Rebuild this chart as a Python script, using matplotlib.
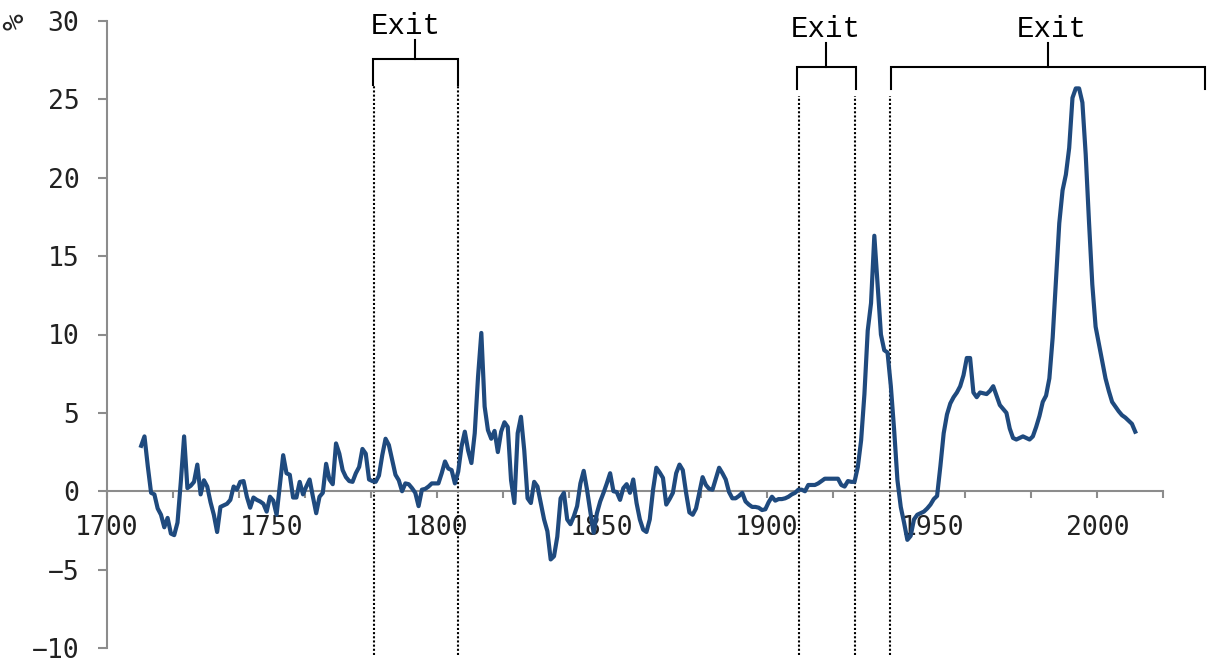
import numpy as np
import matplotlib
matplotlib.use('Agg')
import matplotlib.pyplot as plt

# annual rate, 1710-2011 (%)
years = np.arange(1710, 2012)
rate = [
    2.9, 3.5, 1.6, -0.1, -0.2, -1.1, -1.5, -2.3, -1.7, -2.7,         # 1710s
    -2.8, -2.0, 0.6, 3.5, 0.2, 0.35, 0.6, 1.7, -0.2, 0.7,            # 1720s
    0.3, -0.7, -1.5, -2.6, -1.0, -0.9, -0.8, -0.55, 0.3, 0.1,        # 1730s
    0.6, 0.65, -0.35, -1.05, -0.4, -0.55, -0.65, -0.8, -1.3, -0.35,  # 1740s
    -0.6, -1.5, 0.4, 2.3, 1.15, 1.05, -0.4, -0.4, 0.6, -0.2,         # 1750s
    0.3, 0.75, -0.35, -1.4, -0.35, -0.1, 1.75, 0.75, 0.45, 3.05,     # 1760s
    2.4, 1.35, 0.9, 0.65, 0.6, 1.15, 1.55, 2.7, 2.4, 0.75,           # 1770s
    0.65, 0.6, 1.0, 2.3, 3.35, 2.95, 2.0, 1.05, 0.7, 0.0,            # 1780s
    0.5, 0.45, 0.2, -0.1, -0.95, 0.1, 0.15, 0.3, 0.5, 0.5,           # 1790s
    0.5, 1.15, 1.9, 1.45, 1.35, 0.5, 1.25, 2.85, 3.8, 2.6,           # 1800s
    1.8, 3.7, 7.3, 10.1, 5.4, 3.9, 3.35, 3.85, 2.5, 3.8,             # 1810s
    4.4, 4.1, 0.7, -0.75, 3.7, 4.75, 2.6, -0.45, -0.75, 0.6,         # 1820s
    0.3, -0.75, -1.8, -2.55, -4.35, -4.15, -2.9, -0.45, -0.1, -1.8,  # 1830s
    -2.1, -1.6, -0.95, 0.5, 1.3, 0.1, -1.3, -2.65, -1.4, -0.65,      # 1840s
    -0.1, 0.5, 1.15, 0.0, -0.05, -0.55, 0.2, 0.45, -0.1, 0.75,       # 1850s
    -0.75, -1.8, -2.45, -2.6, -1.8, 0.1, 1.5, 1.2, 0.85, -0.85,      # 1860s
    -0.5, -0.1, 1.15, 1.7, 1.35, -0.1, -1.35, -1.5, -1.1, -0.1,      # 1870s
    0.9, 0.4, 0.15, 0.1, 0.8, 1.5, 1.15, 0.75, -0.05, -0.45,         # 1880s
    -0.45, -0.3, -0.1, -0.65, -0.85, -1.0, -1.0, -1.05, -1.2, -1.15, # 1890s
    -0.7, -0.35, -0.6, -0.5, -0.5, -0.45, -0.35, -0.2, -0.1, 0.1,    # 1900s
    0.1, 0.0, 0.4, 0.4, 0.4, 0.5, 0.65, 0.8, 0.8, 0.8,               # 1910s
    0.8, 0.8, 0.4, 0.3, 0.65, 0.6, 0.6, 1.55, 3.25, 6.2,             # 1920s
    10.25, 12.0, 16.3, 13.2, 10.0, 9.0, 8.85, 6.7, 3.9, 0.7,         # 1930s
    -1.0, -2.0, -3.1, -2.85, -1.8, -1.5, -1.4, -1.3, -1.1, -0.85,    # 1940s
    -0.5, -0.3, 1.6, 3.7, 4.9, 5.6, 6.0, 6.3, 6.7, 7.4,              # 1950s
    8.5, 8.5, 6.3, 6.0, 6.3, 6.25, 6.2, 6.4, 6.7, 6.1,               # 1960s
    5.5, 5.25, 5.0, 4.0, 3.4, 3.3, 3.4, 3.5, 3.4, 3.3,               # 1970s
    3.5, 4.1, 4.8, 5.7, 6.1, 7.2, 9.8, 13.5, 17.1, 19.2,             # 1980s
    20.2, 21.9, 25.1, 25.7, 25.7, 24.8, 21.5, 17.2, 13.2, 10.5,      # 1990s
    9.4, 8.3, 7.2, 6.4, 5.7, 5.4, 5.1, 4.85, 4.7, 4.5,               # 2000s
    4.3, 3.8,                                                        # 2010s
]

# "Exit" periods: bracket spans and the dotted boundaries
exit_start = [1780.7, 1909.1, 1937.6]
exit_end = [1806.4, 1926.9, 2032.7]
exit_label_x = [1790.7, 1917.7, 1986.3]
boundary_years = [1781.0, 1806.4, 1909.7, 1926.6, 1937.1]

x_ticks = list(range(1700, 2021, 20))
x_labels = [1700, 1750, 1800, 1850, 1900, 1950, 2000]
y_ticks = [-10, -5, 0, 5, 10, 15, 20, 25, 30]

tick_font = 'DejaVu Sans Mono'
label_font = 'Liberation Mono'
grey = '#8c8c8c'
text_col = '#222222'


def main():
    fig = plt.figure(figsize=(12.07, 6.70), dpi=100)
    ax = fig.add_axes([106.5 / 1207, 22 / 670, 1056.8 / 1207, 627 / 670])

    # categories sit in the middle of their year slot
    ax.plot(years + 0.5, rate, color='#1f4a7e', lw=3.0,
            solid_joinstyle='round', zorder=3)

    ax.set_xlim(1700, 2020)
    ax.set_ylim(-10, 30)

    for s in ['top', 'right']:
        ax.spines[s].set_visible(False)
    ax.spines['bottom'].set_position(('data', 0))
    for s in ['left', 'bottom']:
        ax.spines[s].set_color(grey)
        ax.spines[s].set_linewidth(1.5)

    # tick marks every 20 years, labels every 50 years
    ax.xaxis.remove_overlapping_locs = False
    ax.set_xticks(x_ticks)
    ax.set_xticklabels([])
    ax.set_xticks(x_labels, minor=True)
    ax.set_xticklabels([str(v) for v in x_labels], minor=True,
                       family=tick_font, fontsize=19, color=text_col)
    ax.tick_params(axis='x', which='major', direction='out', length=5,
                   width=1.5, color=grey)
    ax.tick_params(axis='x', which='minor', length=0, pad=17)

    ax.set_yticks(y_ticks)
    ax.set_yticklabels([str(v).replace('-', '\u2212') for v in y_ticks],
                       family=tick_font, fontsize=19, color=text_col)
    ax.tick_params(axis='y', direction='out', length=6.5, width=1.5,
                   color=grey, pad=13)

    fig.text(16 / 1207, 1 - 22 / 670, '%', rotation=90, ha='center',
             va='center', family=tick_font, fontsize=20, color=text_col)

    # dotted boundaries
    for b in boundary_years:
        top = 25.9 if b < 1850 else 25.2
        ax.plot([b, b], [-10.45, top], color='black', lw=1.5,
                ls=(0, (1, 1)), clip_on=False, zorder=2)

    # brackets with labels
    for i in range(len(exit_start)):
        x0, x1 = exit_start[i], exit_end[i]
        top = 27.6 if i == 0 else 27.05
        low = 25.9 if i == 0 else 25.65
        mid = (x0 + x1) / 2
        ax.plot([x0, x0, x1, x1], [low, top, top, low], color='black',
                lw=1.5, clip_on=False, solid_joinstyle='miter')
        ax.plot([mid, mid], [top, top + 1.2 if i == 0 else top + 1.55],
                color='black', lw=1.5, clip_on=False)
        ty = 29.7 if i == 0 else 29.5
        ax.text(exit_label_x[i], ty, 'Exit', ha='center', va='center',
                family=label_font, fontsize=21, color='black',
                clip_on=False)

    fig.savefig('out.png', dpi=100)


if __name__ == '__main__':
    main()
